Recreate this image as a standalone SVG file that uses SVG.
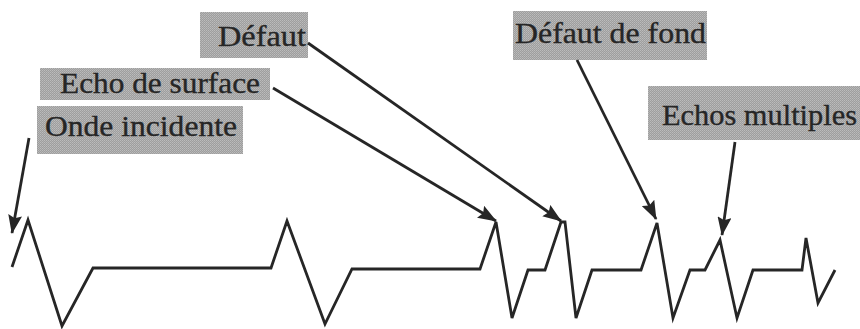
<svg xmlns="http://www.w3.org/2000/svg" width="860" height="329" viewBox="0 0 860 329">
  <style>
    .box { fill: url(#dots); }
    .lbl { font-family: "Liberation Serif", "DejaVu Serif", serif; font-size: 30px; fill: #262626; stroke: #262626; stroke-width: 0.35; }
    .wave { fill: none; stroke: #262626; stroke-width: 2.8; stroke-linejoin: miter; }
    .arrow { fill: none; stroke: #262626; stroke-width: 2.8; marker-end: url(#head); }
  </style>
  <defs>
    <pattern id="dots" width="2" height="2" patternUnits="userSpaceOnUse">
      <rect width="2" height="2" fill="#9e9e9e"/>
      <rect width="1" height="1" fill="#bcbcbc"/>
      <rect x="1" y="1" width="1" height="1" fill="#b2b2b2"/>
    </pattern>
    <marker id="head" markerUnits="userSpaceOnUse" markerWidth="19" markerHeight="14" refX="18" refY="7" orient="auto">
      <path d="M0,0 L19,7 L0,14 L3,7 z" fill="#262626"/>
    </marker>
  </defs>
  <rect width="860" height="329" fill="#ffffff"/>

  <g id="label-defaut">
    <rect class="box" x="200" y="12" width="108" height="46"/>
    <text class="lbl" x="218" y="46" textLength="88" lengthAdjust="spacingAndGlyphs">Défaut</text>
  </g>
  <g id="label-echo-surface">
    <rect class="box" x="40" y="68" width="230" height="32"/>
    <text class="lbl" x="60" y="93" textLength="200" lengthAdjust="spacingAndGlyphs">Echo de surface</text>
  </g>
  <g id="label-onde-incidente">
    <rect class="box" x="37" y="106" width="206" height="48"/>
    <text class="lbl" x="45" y="136" textLength="192" lengthAdjust="spacingAndGlyphs">Onde incidente</text>
  </g>
  <g id="label-defaut-fond">
    <rect class="box" x="513" y="11" width="194" height="49"/>
    <text class="lbl" x="515" y="43" textLength="191" lengthAdjust="spacingAndGlyphs">Défaut de fond</text>
  </g>
  <g id="label-echos-multiples">
    <rect class="box" x="648" y="86" width="212" height="54"/>
    <text class="lbl" x="662" y="125" textLength="195" lengthAdjust="spacingAndGlyphs">Echos multiples</text>
  </g>

  <g id="signal">
    <polyline class="wave" points="12,267 28,220 62,326 93,268 271,268 287,221 325,324 352,269 480,269 496,222 512,318 528,270 545,270 561,222 565,222 576,318 592,270 641,270 657,223 673,318 690,270 705,270 720,240 737,318 753,270 802,270 806,238 818,303 835,270"/>
  </g>

  <g id="connectors">
    <line class="arrow" x1="29" y1="138" x2="12" y2="233"/>
    <line class="arrow" x1="273" y1="88" x2="496" y2="221"/>
    <line class="arrow" x1="308" y1="43" x2="561" y2="221"/>
    <line class="arrow" x1="577" y1="60" x2="656" y2="219"/>
    <line class="arrow" x1="735" y1="142" x2="722" y2="235"/>
  </g>
</svg>
